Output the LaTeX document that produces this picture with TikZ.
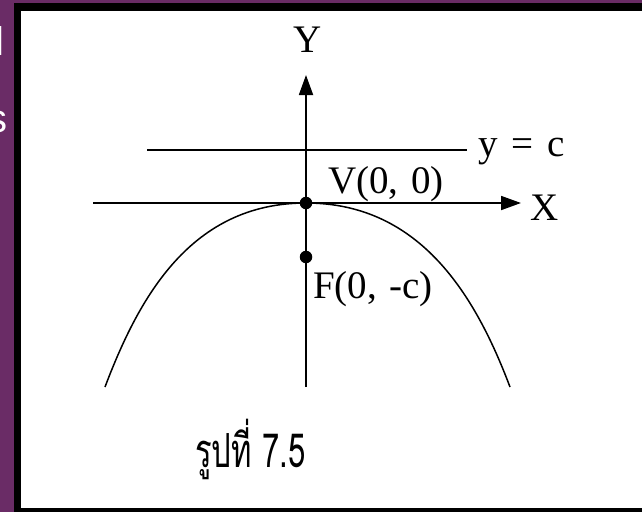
\documentclass[tikz,border=0pt]{standalone}
\usepackage{fontspec}
\setmainfont{Liberation Serif}
\newfontfamily\thaifont[Script=Thai]{Loma}
\newfontfamily\slidesans{Liberation Sans}
\usetikzlibrary{arrows.meta}
\definecolor{slidepurple}{HTML}{6A2C66}
\begin{document}
\begin{tikzpicture}[x=1pt,y=-1pt,
  axisline/.style={line width=1.8pt,-{Triangle[length=20pt,width=14pt]}},
  guideline/.style={line width=1.6pt},
  curveline/.style={line width=1.5pt},
  ptdot/.style={circle,fill=black,inner sep=0pt,minimum size=12.5pt},
  lbl/.style={inner sep=0pt,font=\fontsize{39}{42}\selectfont},
  slidetxt/.style={inner sep=0pt,text=white,font=\slidesans\fontsize{40}{44}\selectfont}]
\useasboundingbox (0,0) rectangle (642,512);
\fill[slidepurple] (0,0) rectangle (642,512);
\begin{scope}
  \clip (0,0) rectangle (14,512);
  \node[slidetxt,anchor=base east] (t1) at (5,55) {l};
  \node[slidetxt,anchor=base east] (t2) at (8,132) {s};
\end{scope}
\fill[black] (14,3) rectangle (642,512);
\fill[white] (21,11) rectangle (642,508);
% points
\node[ptdot] (V) at (306,203) {};
\node[ptdot] (F) at (306,257) {};
\coordinate (xs) at (93,203);
\coordinate (xe) at (521,203);
\coordinate (ys) at (306,387);
\coordinate (ye) at (306,75);
\coordinate (ls) at (147,150);
\coordinate (le) at (467,150);
\coordinate (pl) at (105,387);
\coordinate (pr) at (510,387);
% parabola
\draw[curveline] (pl) .. controls (139,297) and (191,203) .. (V.center)
  .. controls (421,203) and (476,297) .. (pr);
% axes
\draw[axisline] (xs) -- (xe);
\draw[axisline] (ys) -- (ye);
\draw[guideline] (ls) -- (le);
% labels
\node[lbl,anchor=base] (Ylab) at (308,52) {Y};
\node[lbl,anchor=base west] (Xlab) at (530,220) {X};
\node[lbl,anchor=base west] (clab) at (478,156) {y\hspace{0.35em}=\hspace{0.35em}c};
\node[lbl,anchor=base west] (Vlab) at (328,193) {V(0,\hspace{0.32em}0)};
\node[lbl,anchor=base west] (Flab) at (313,298) {F(0,\hspace{0.32em}-c)};
\node[inner sep=0pt,anchor=base west,xscale=0.66,font=\thaifont\fontsize{47}{50}\selectfont] (cap) at (195,467) {รูปที่ 7.5};
\end{tikzpicture}
\end{document}
